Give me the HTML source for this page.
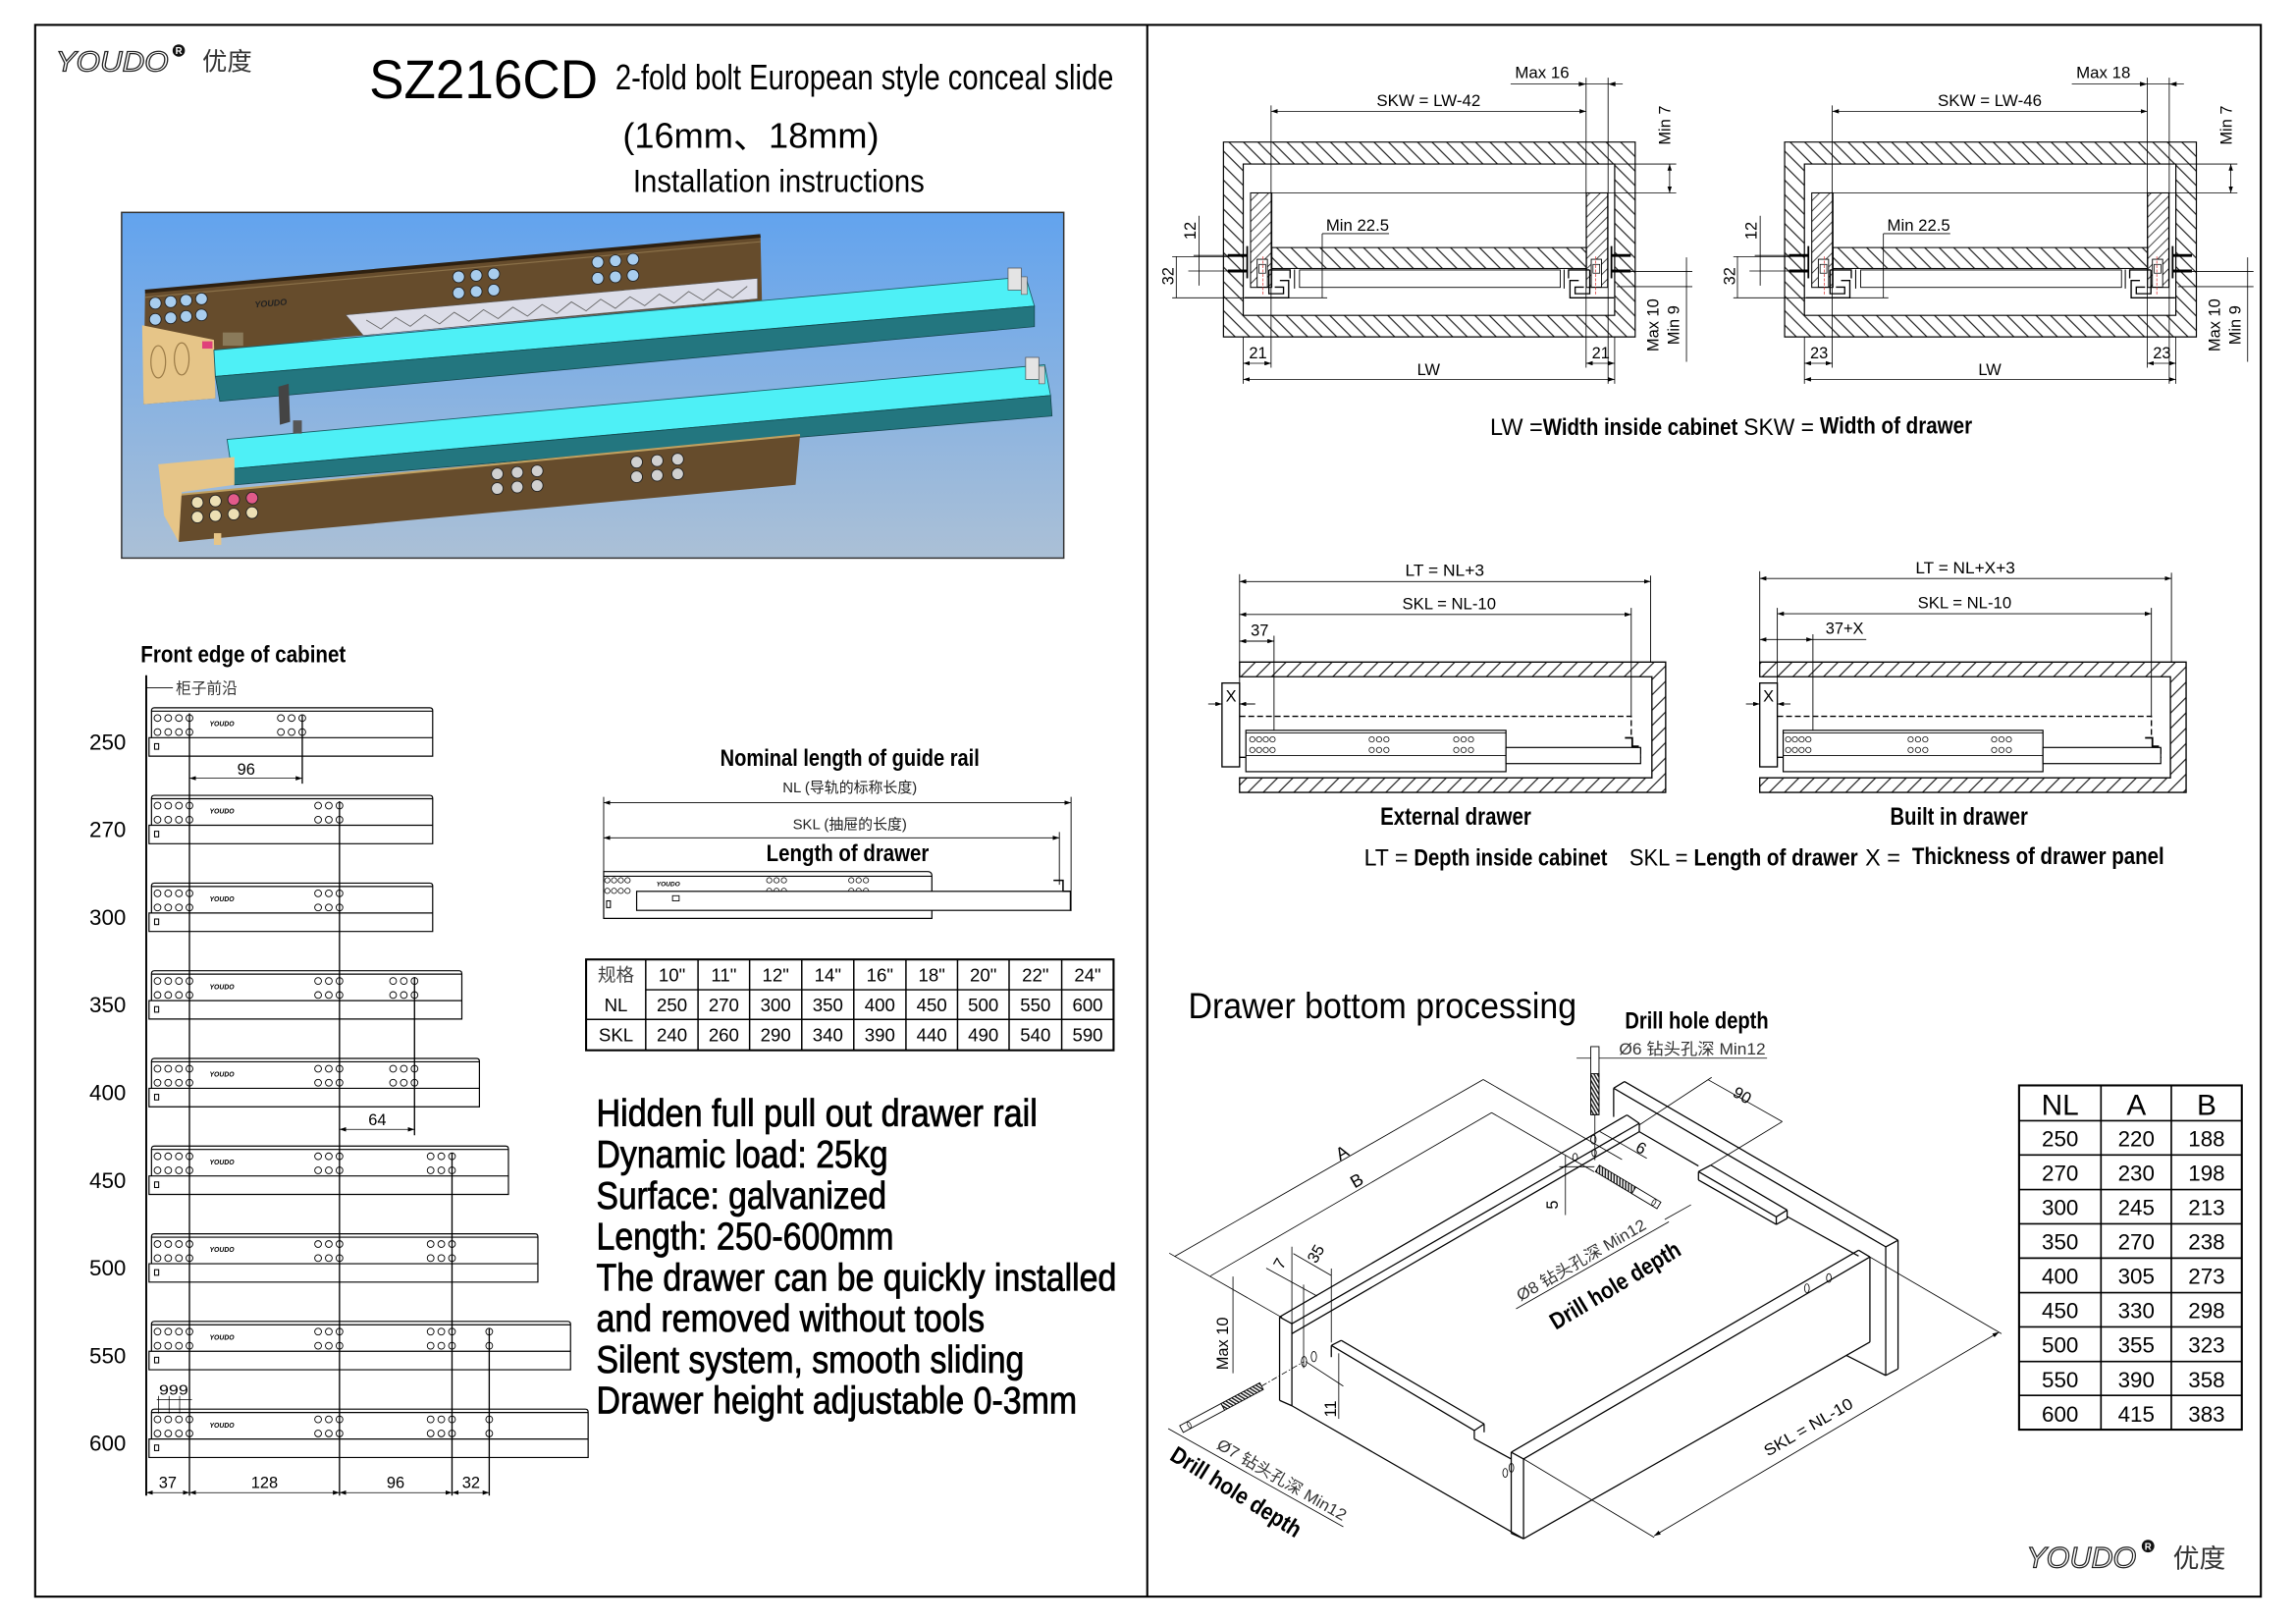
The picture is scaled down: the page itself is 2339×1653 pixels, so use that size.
<!DOCTYPE html>
<html><head><meta charset="utf-8"><style>
html,body{margin:0;padding:0;background:#fff;}
svg{display:block;}
text{font-family:"Liberation Sans","Noto Sans CJK SC",sans-serif;fill:#000;}
.t11{font-size:11px;}
.lg{font-size:4.6px;font-weight:bold;font-style:italic;}
.num{font-size:15px;}
</style></head><body>
<svg xmlns="http://www.w3.org/2000/svg" width="2339" height="1653" viewBox="0 0 1567 1108" preserveAspectRatio="none">
<defs>
 <pattern id="hb" width="7" height="7" patternUnits="userSpaceOnUse" patternTransform="rotate(45)"><line x1="0" y1="0.5" x2="7" y2="0.5" stroke="#000" stroke-width="0.7"/></pattern>
 <pattern id="hf" width="7.4" height="7.4" patternUnits="userSpaceOnUse" patternTransform="rotate(-45)"><line x1="0" y1="0.5" x2="7.4" y2="0.5" stroke="#000" stroke-width="0.7"/></pattern>
 <pattern id="hs" width="5" height="5" patternUnits="userSpaceOnUse" patternTransform="rotate(-45)"><line x1="0" y1="0.5" x2="5" y2="0.5" stroke="#000" stroke-width="0.5"/></pattern>
 <pattern id="thr" width="2" height="2" patternUnits="userSpaceOnUse" patternTransform="rotate(60)"><rect width="2" height="1" fill="#222"/></pattern>
 <marker id="ar" viewBox="0 0 6 4" refX="6" refY="2" markerWidth="4.5" markerHeight="3" markerUnits="userSpaceOnUse" orient="auto-start-reverse"><path d="M0,0 L6,2 L0,4 Z" fill="#000"/></marker>
 <linearGradient id="sky" x1="0" y1="0" x2="0" y2="1"><stop offset="0" stop-color="#62a3ee"/><stop offset="1" stop-color="#abc0d6"/></linearGradient>
 <g id="c4" fill="none" stroke="#000" stroke-width="0.6"><circle cx="0" cy="0" r="2.3"/><circle cx="7.3" cy="0" r="2.3"/><circle cx="14.6" cy="0" r="2.3"/><circle cx="21.8" cy="0" r="2.3"/><circle cx="0" cy="9.6" r="2.3"/><circle cx="7.3" cy="9.6" r="2.3"/><circle cx="14.6" cy="9.6" r="2.3"/><circle cx="21.8" cy="9.6" r="2.3"/></g>
 <g id="c3" fill="none" stroke="#000" stroke-width="0.6"><circle cx="0" cy="0" r="2.3"/><circle cx="7.3" cy="0" r="2.3"/><circle cx="14.6" cy="0" r="2.3"/><circle cx="0" cy="9.6" r="2.3"/><circle cx="7.3" cy="9.6" r="2.3"/><circle cx="14.6" cy="9.6" r="2.3"/></g>
 <g id="c1" fill="none" stroke="#000" stroke-width="0.6"><circle cx="0" cy="0" r="2.3"/><circle cx="0" cy="9.6" r="2.3"/></g>
 <g id="d4" fill="none" stroke="#000" stroke-width="0.5"><circle cx="0" cy="0" r="1.8"/><circle cx="4.6" cy="0" r="1.8"/><circle cx="9.2" cy="0" r="1.8"/><circle cx="13.8" cy="0" r="1.8"/><circle cx="0" cy="7.2" r="1.8"/><circle cx="4.6" cy="7.2" r="1.8"/><circle cx="9.2" cy="7.2" r="1.8"/><circle cx="13.8" cy="7.2" r="1.8"/></g>
 <g id="d3" fill="none" stroke="#000" stroke-width="0.5"><circle cx="0" cy="0" r="1.8"/><circle cx="5" cy="0" r="1.8"/><circle cx="10" cy="0" r="1.8"/><circle cx="0" cy="7.2" r="1.8"/><circle cx="5" cy="7.2" r="1.8"/><circle cx="10" cy="7.2" r="1.8"/></g>
 <g id="sl" fill="none" stroke="#000">
  <path d="M849.5,203.3 H879.5 V191.5 H873.5" stroke-width="0.9"/>
  <path d="M866,184.3 H880.5 V190" stroke-width="0.9"/>
  <path d="M870,196 H876 V200.5 H866 V184.3" stroke-width="0.9"/>
  <rect x="858" y="177" width="7" height="19" fill="#fff" stroke-width="0.6"/>
  <rect x="859.2" y="180.5" width="4.6" height="6" stroke-width="0.5"/>
  <line x1="862" y1="175" x2="862" y2="202" stroke="#d33" stroke-width="0.5" stroke-dasharray="2,1"/>
  <line x1="838" y1="174.4" x2="851" y2="174.4" stroke-width="2"/>
  <line x1="838" y1="185" x2="851" y2="185" stroke-width="2"/>
  <line x1="851.2" y1="168" x2="851.2" y2="190" stroke-width="1.2"/>
  <line x1="883.5" y1="184" x2="883.5" y2="197" stroke-width="0.7"/>
 </g>
 <g id="cab">
  <path d="M835,97 H1116 V230 H835 Z M848.5,112 V215.3 H1102 V112 Z" fill="url(#hb)" fill-rule="evenodd" stroke="#000" stroke-width="0.8"/>
  <rect x="853.5" y="131.7" width="14.5" height="64.5" fill="url(#hs)" stroke="#000" stroke-width="0.7"/>
  <rect x="1082.7" y="131.7" width="14.5" height="64.5" fill="url(#hs)" stroke="#000" stroke-width="0.7"/>
  <rect x="868" y="169" width="214.7" height="14.3" fill="url(#hb)" stroke="#000" stroke-width="0.7"/>
  <rect x="886.9" y="184.3" width="178" height="11.9" fill="none" stroke="#000" stroke-width="0.6"/>
  <use href="#sl"/>
  <use href="#sl" transform="translate(1951,0) scale(-1,1)"/>
  <g stroke="#000" stroke-width="0.55" fill="none">
   <line x1="853.5" y1="131.7" x2="1144" y2="131.7"/>
   <line x1="1102" y1="112" x2="1144" y2="112"/>
   <line x1="867.5" y1="76" x2="1082.5" y2="76" marker-start="url(#ar)" marker-end="url(#ar)"/>
   <line x1="867.5" y1="72" x2="867.5" y2="251"/>
   <line x1="1082.5" y1="53" x2="1082.5" y2="251"/>
   <line x1="1097.5" y1="53" x2="1097.5" y2="262"/>
   <line x1="1031" y1="57.4" x2="1107.5" y2="57.4"/>
   <line x1="1139.5" y1="112" x2="1139.5" y2="131.7" marker-start="url(#ar)" marker-end="url(#ar)"/>
   <line x1="818.3" y1="147.3" x2="818.3" y2="195"/>
   <line x1="814.6" y1="174.4" x2="840" y2="174.4"/>
   <line x1="811" y1="185" x2="840" y2="185"/>
   <line x1="802.8" y1="175" x2="802.8" y2="203.3"/>
   <line x1="800" y1="175.2" x2="839" y2="175.2"/>
   <line x1="800" y1="203.3" x2="905.8" y2="203.3"/>
   <line x1="902.4" y1="159.5" x2="948" y2="159.5"/>
   <line x1="902.4" y1="159.5" x2="902.4" y2="203.3"/>
   <line x1="1151" y1="175.7" x2="1151" y2="247"/>
   <line x1="1103.5" y1="185.3" x2="1155" y2="185.3"/>
   <line x1="1103.5" y1="195.7" x2="1155" y2="195.7"/>
   <line x1="848.5" y1="230" x2="848.5" y2="262"/>
   <line x1="1102" y1="230" x2="1102" y2="262"/>
   <line x1="848.5" y1="248" x2="867.5" y2="248" marker-start="url(#ar)" marker-end="url(#ar)"/>
   <line x1="1082.5" y1="248" x2="1102" y2="248" marker-start="url(#ar)" marker-end="url(#ar)"/>
   <line x1="848.5" y1="259" x2="1102" y2="259" marker-start="url(#ar)" marker-end="url(#ar)"/>
  </g>
  <path d="M1082.5,57.4 L1077.5,55.8 L1077.5,59 Z M1097.5,57.4 L1102.5,55.8 L1102.5,59 Z" fill="#000"/>
 </g>
</defs>

<!-- frame -->
<rect x="24" y="17" width="1519" height="1073" fill="none" stroke="#000" stroke-width="1.4"/>
<line x1="783" y1="17" x2="783" y2="1090" stroke="#000" stroke-width="1.4"/>

<!-- header -->
<text x="38" y="48.5" font-size="19" font-style="italic" style="fill:#fff" stroke="#222" stroke-width="0.8" textLength="77" lengthAdjust="spacingAndGlyphs">YOUDO</text>
<circle cx="122" cy="34.5" r="4.2" fill="#111"/><text x="122" y="37" font-size="6.5" font-weight="bold" style="fill:#fff" text-anchor="middle">R</text>
<text x="138" y="48" font-size="17" style="fill:#333">优度</text>
<text x="252" y="67" font-size="37" textLength="156" lengthAdjust="spacingAndGlyphs">SZ216CD</text>
<text x="420" y="61" font-size="24" textLength="340" lengthAdjust="spacingAndGlyphs">2-fold bolt European style conceal slide</text>
<text x="425" y="101" font-size="24" textLength="175" lengthAdjust="spacingAndGlyphs">(16mm、18mm)</text>
<text x="432" y="131" font-size="22" textLength="199" lengthAdjust="spacingAndGlyphs">Installation instructions</text>

<!-- photo -->
<rect x="83" y="145" width="643" height="236" fill="url(#sky)" stroke="#333" stroke-width="1"/>
<g>
 <polygon points="99,199 519,161 520,205 248,229 236,230 146,240 147,272 98,276" fill="#664c2c"/>
 <polyline points="99,199 519,161" stroke="#2e2010" stroke-width="2.5" fill="none"/>
 <polyline points="99,203 519,165" stroke="#8a7048" stroke-width="0.8" fill="none"/>
 <polygon points="236,215 517,190 517,204 248,229" fill="#dcdde8" stroke="#555" stroke-width="0.4"/>
 <polyline points="250,218.5 260,224.6 270,216.7 280,222.8 290,215 300,221.1 310,213.2 320,219.3 330,211.4 340,217.5 350,209.7 360,215.8 370,207.9 380,214 390,206.1 400,212.2 410,204.3 420,210.5 430,202.6 440,208.7 450,200.8 460,206.9 470,199 480,205.1 490,197.3 500,203.4 510,195.5" fill="none" stroke="#666" stroke-width="0.6"/>
 <polygon points="97,222 146,232 147,272 98,276" fill="#e6c588"/>
 <ellipse cx="108" cy="247" rx="5" ry="11" fill="none" stroke="#9a7a46" stroke-width="0.8"/>
 <ellipse cx="124" cy="245" rx="5" ry="11" fill="none" stroke="#9a7a46" stroke-width="0.8"/>
 <rect x="138" y="233" width="7" height="5" fill="#e0407a"/>
 <rect x="152" y="227" width="14" height="9" fill="#8a7a5a"/>
 <g fill="#a8cdee" stroke="#222" stroke-width="0.6">
  <circle cx="106" cy="207" r="4"/><circle cx="116.5" cy="206" r="4"/><circle cx="127" cy="205" r="4"/><circle cx="137.5" cy="204" r="4"/>
  <circle cx="106" cy="218" r="4"/><circle cx="116.5" cy="217" r="4"/><circle cx="127" cy="216" r="4"/><circle cx="137.5" cy="215" r="4"/>
  <circle cx="313" cy="189" r="4"/><circle cx="325" cy="188" r="4"/><circle cx="337" cy="187" r="4"/>
  <circle cx="313" cy="200" r="4"/><circle cx="325" cy="199" r="4"/><circle cx="337" cy="198" r="4"/>
  <circle cx="408" cy="179" r="4"/><circle cx="420" cy="178" r="4"/><circle cx="432" cy="177" r="4"/>
  <circle cx="408" cy="190" r="4"/><circle cx="420" cy="189" r="4"/><circle cx="432" cy="188" r="4"/>
 </g>
 <text x="174" y="210" font-size="6" font-style="italic" font-weight="bold" style="fill:#222" transform="rotate(-5 174 210)">YOUDO</text>
 <polygon points="146,239 700,189 706,209 147,257" fill="#4ef0f6" stroke="#1b5e66" stroke-width="0.6"/>
 <polygon points="147,257 706,209 706,223 150,274" fill="#23767f" stroke="#12444a" stroke-width="0.5"/>
 <rect x="688" y="183" width="9" height="15" fill="#e4e4e4" stroke="#555" stroke-width="0.5"/>
 <rect x="697" y="189" width="4" height="12" fill="#cfcfcf" stroke="#555" stroke-width="0.4"/>
 <polygon points="190,264 197,262 198,288 191,290" fill="#444"/>
 <polygon points="155,300 713,249 717,270 158,320" fill="#4ef0f6" stroke="#1b5e66" stroke-width="0.6"/>
 <polygon points="158,320 717,270 718,284 160,331" fill="#23767f" stroke="#12444a" stroke-width="0.5"/>
 <rect x="700" y="244" width="9" height="15" fill="#e4e4e4" stroke="#555" stroke-width="0.5"/>
 <rect x="709" y="250" width="4" height="12" fill="#cfcfcf" stroke="#555" stroke-width="0.4"/>
 <rect x="200" y="287" width="6" height="9" fill="#555"/>
 <polygon points="120,338 546,297 543,331 183,364 122,370" fill="#664c2c"/>
 <line x1="120" y1="338" x2="546" y2="297" stroke="#c0a060" stroke-width="1.4"/>
 <polygon points="108,317 160,312 160,331 124,336 122,370 112,352" fill="#e6c588"/>
 <rect x="146" y="364" width="5" height="8" fill="#e6c588"/>
 <g fill="#ecdfb4" stroke="#222" stroke-width="0.6">
  <circle cx="134.7" cy="343" r="4"/><circle cx="147" cy="342" r="4"/><circle cx="159.5" cy="341" r="4" fill="#e25a8a"/><circle cx="172" cy="340" r="4" fill="#e25a8a"/>
  <circle cx="134.7" cy="353" r="4"/><circle cx="147" cy="352" r="4"/><circle cx="159.5" cy="351" r="4"/><circle cx="172" cy="350" r="4"/>
 </g>
 <g fill="#d0d0d0" stroke="#222" stroke-width="0.6">
  <circle cx="339.4" cy="323.5" r="4"/><circle cx="353" cy="322.5" r="4"/><circle cx="366.6" cy="321.5" r="4"/>
  <circle cx="339.4" cy="333.5" r="4"/><circle cx="353" cy="332.5" r="4"/><circle cx="366.6" cy="331.5" r="4"/>
  <circle cx="434.5" cy="315.5" r="4"/><circle cx="448.5" cy="314.5" r="4"/><circle cx="462.5" cy="313.5" r="4"/>
  <circle cx="434.5" cy="325.5" r="4"/><circle cx="448.5" cy="324.5" r="4"/><circle cx="462.5" cy="323.5" r="4"/>
 </g>
</g>

<!-- Front edge of cabinet section -->
<text x="96" y="452" font-size="16" font-weight="bold" textLength="140" lengthAdjust="spacingAndGlyphs">Front edge of cabinet</text>
<line x1="100" y1="469.5" x2="118" y2="469.5" stroke="#000" stroke-width="0.6"/>
<text x="120" y="473.5" font-size="10.5" style="fill:#333">柜子前沿</text>
<line x1="99.8" y1="461" x2="99.8" y2="1021" stroke="#000" stroke-width="1.3"/>

<g transform="translate(0,483.2)"><path d="M101.7,33 V20.4 H103.4 V2 Q103.4,0 105.4,0 H293.3 Q295.3,0 295.3,2 V33 Z M101.7,20.4 H295.3 M103.4,2.3 H295.3" fill="none" stroke="#000" stroke-width="0.8"/><use href="#c4" x="107.5" y="7"/><use href="#c3" x="191.7" y="7"/><text x="143" y="12.5" class="lg">YOUDO</text><rect x="105.5" y="24.5" width="2.8" height="3.8" fill="#fff" stroke="#000" stroke-width="0.7"/></g>
<g transform="translate(0,543)"><path d="M101.7,33 V20.4 H103.4 V2 Q103.4,0 105.4,0 H293.3 Q295.3,0 295.3,2 V33 Z M101.7,20.4 H295.3 M103.4,2.3 H295.3" fill="none" stroke="#000" stroke-width="0.8"/><use href="#c4" x="107.5" y="7"/><use href="#c3" x="217.1" y="7"/><text x="143" y="12.5" class="lg">YOUDO</text><rect x="105.5" y="24.5" width="2.8" height="3.8" fill="#fff" stroke="#000" stroke-width="0.7"/></g>
<g transform="translate(0,602.9)"><path d="M101.7,33 V20.4 H103.4 V2 Q103.4,0 105.4,0 H293.3 Q295.3,0 295.3,2 V33 Z M101.7,20.4 H295.3 M103.4,2.3 H295.3" fill="none" stroke="#000" stroke-width="0.8"/><use href="#c4" x="107.5" y="7"/><use href="#c3" x="217.1" y="7"/><text x="143" y="12.5" class="lg">YOUDO</text><rect x="105.5" y="24.5" width="2.8" height="3.8" fill="#fff" stroke="#000" stroke-width="0.7"/></g>
<g transform="translate(0,662.7)"><path d="M101.7,33 V20.4 H103.4 V2 Q103.4,0 105.4,0 H313.2 Q315.2,0 315.2,2 V33 Z M101.7,20.4 H315.2 M103.4,2.3 H315.2" fill="none" stroke="#000" stroke-width="0.8"/><use href="#c4" x="107.5" y="7"/><use href="#c3" x="217.1" y="7"/><use href="#c3" x="268.3" y="7"/><text x="143" y="12.5" class="lg">YOUDO</text><rect x="105.5" y="24.5" width="2.8" height="3.8" fill="#fff" stroke="#000" stroke-width="0.7"/></g>
<g transform="translate(0,722.6)"><path d="M101.7,33 V20.4 H103.4 V2 Q103.4,0 105.4,0 H325.2 Q327.2,0 327.2,2 V33 Z M101.7,20.4 H327.2 M103.4,2.3 H327.2" fill="none" stroke="#000" stroke-width="0.8"/><use href="#c4" x="107.5" y="7"/><use href="#c3" x="217.1" y="7"/><use href="#c3" x="268.3" y="7"/><text x="143" y="12.5" class="lg">YOUDO</text><rect x="105.5" y="24.5" width="2.8" height="3.8" fill="#fff" stroke="#000" stroke-width="0.7"/></g>
<g transform="translate(0,782.4)"><path d="M101.7,33 V20.4 H103.4 V2 Q103.4,0 105.4,0 H345 Q347,0 347,2 V33 Z M101.7,20.4 H347 M103.4,2.3 H347" fill="none" stroke="#000" stroke-width="0.8"/><use href="#c4" x="107.5" y="7"/><use href="#c3" x="217.1" y="7"/><use href="#c3" x="293.9" y="7"/><text x="143" y="12.5" class="lg">YOUDO</text><rect x="105.5" y="24.5" width="2.8" height="3.8" fill="#fff" stroke="#000" stroke-width="0.7"/></g>
<g transform="translate(0,842.3)"><path d="M101.7,33 V20.4 H103.4 V2 Q103.4,0 105.4,0 H365.1 Q367.1,0 367.1,2 V33 Z M101.7,20.4 H367.1 M103.4,2.3 H367.1" fill="none" stroke="#000" stroke-width="0.8"/><use href="#c4" x="107.5" y="7"/><use href="#c3" x="217.1" y="7"/><use href="#c3" x="293.9" y="7"/><text x="143" y="12.5" class="lg">YOUDO</text><rect x="105.5" y="24.5" width="2.8" height="3.8" fill="#fff" stroke="#000" stroke-width="0.7"/></g>
<g transform="translate(0,902.1)"><path d="M101.7,33 V20.4 H103.4 V2 Q103.4,0 105.4,0 H387.4 Q389.4,0 389.4,2 V33 Z M101.7,20.4 H389.4 M103.4,2.3 H389.4" fill="none" stroke="#000" stroke-width="0.8"/><use href="#c4" x="107.5" y="7"/><use href="#c3" x="217.1" y="7"/><use href="#c3" x="293.9" y="7"/><use href="#c1" x="333.9" y="7"/><text x="143" y="12.5" class="lg">YOUDO</text><rect x="105.5" y="24.5" width="2.8" height="3.8" fill="#fff" stroke="#000" stroke-width="0.7"/></g>
<g transform="translate(0,962)"><path d="M101.7,33 V20.4 H103.4 V2 Q103.4,0 105.4,0 H399.4 Q401.4,0 401.4,2 V33 Z M101.7,20.4 H401.4 M103.4,2.3 H401.4" fill="none" stroke="#000" stroke-width="0.8"/><use href="#c4" x="107.5" y="7"/><use href="#c3" x="217.1" y="7"/><use href="#c3" x="293.9" y="7"/><use href="#c1" x="333.9" y="7"/><text x="143" y="12.5" class="lg">YOUDO</text><rect x="105.5" y="24.5" width="2.8" height="3.8" fill="#fff" stroke="#000" stroke-width="0.7"/></g>

<g class="num">
<text x="61" y="511.7" class="num">250</text>
<text x="61" y="571.5" class="num">270</text>
<text x="61" y="631.4" class="num">300</text>
<text x="61" y="691.2" class="num">350</text>
<text x="61" y="751.1" class="num">400</text>
<text x="61" y="810.9" class="num">450</text>
<text x="61" y="870.8" class="num">500</text>
<text x="61" y="930.6" class="num">550</text>
<text x="61" y="990.5" class="num">600</text>
</g>
<g stroke="#000" stroke-width="0.9" fill="none">
 <line x1="129.3" y1="487" x2="129.3" y2="1021"/>
 <line x1="206.3" y1="488" x2="206.3" y2="535"/>
 <line x1="231.7" y1="547" x2="231.7" y2="1021"/>
 <line x1="282.9" y1="667" x2="282.9" y2="775"/>
 <line x1="308.5" y1="787" x2="308.5" y2="1021"/>
 <line x1="333.9" y1="907" x2="333.9" y2="1021"/>
</g>
<g stroke="#000" stroke-width="0.5" fill="none">
 <line x1="129.3" y1="531.3" x2="206.3" y2="531.3" marker-start="url(#ar)" marker-end="url(#ar)"/>
 <line x1="231.7" y1="771" x2="282.9" y2="771" marker-start="url(#ar)" marker-end="url(#ar)"/>
 <line x1="99.8" y1="1019" x2="129.3" y2="1019" marker-start="url(#ar)" marker-end="url(#ar)"/>
 <line x1="129.3" y1="1019" x2="231.7" y2="1019" marker-start="url(#ar)" marker-end="url(#ar)"/>
 <line x1="231.7" y1="1019" x2="308.5" y2="1019" marker-start="url(#ar)" marker-end="url(#ar)"/>
 <line x1="308.5" y1="1019" x2="333.9" y2="1019" marker-start="url(#ar)" marker-end="url(#ar)"/>
 <line x1="107" y1="955.5" x2="131" y2="955.5"/>
 <line x1="108.2" y1="953" x2="108.2" y2="965"/>
 <line x1="115.4" y1="953" x2="115.4" y2="965"/>
 <line x1="122.6" y1="953" x2="122.6" y2="965"/>
</g>
<text x="168" y="529" font-size="11" text-anchor="middle">96</text>
<text x="257.5" y="768" font-size="11" text-anchor="middle">64</text>
<text x="114.5" y="1016" font-size="11" text-anchor="middle">37</text>
<text x="180.5" y="1016" font-size="11" text-anchor="middle">128</text>
<text x="270" y="1016" font-size="11" text-anchor="middle">96</text>
<text x="321.5" y="1016" font-size="11" text-anchor="middle">32</text>
<text x="108.5" y="952" font-size="10" textLength="20" lengthAdjust="spacingAndGlyphs">999</text>

<!-- Nominal length -->
<text x="580" y="523" font-size="16" font-weight="bold" text-anchor="middle" textLength="177" lengthAdjust="spacingAndGlyphs">Nominal length of guide rail</text>
<text x="580" y="541" font-size="10" text-anchor="middle" style="fill:#222">NL (导轨的标称长度)</text>
<text x="580" y="566" font-size="10" text-anchor="middle" style="fill:#222">SKL (抽屉的长度)</text>
<text x="578.5" y="588" font-size="16" font-weight="bold" text-anchor="middle" textLength="111" lengthAdjust="spacingAndGlyphs">Length of drawer</text>
<g stroke="#000" stroke-width="0.6" fill="none">
 <line x1="412" y1="548" x2="731" y2="548" marker-start="url(#ar)" marker-end="url(#ar)"/>
 <line x1="412" y1="572" x2="723" y2="572" marker-start="url(#ar)" marker-end="url(#ar)"/>
 <line x1="412" y1="544" x2="412" y2="595"/>
 <line x1="731" y1="544" x2="731" y2="622"/>
 <line x1="723" y1="568" x2="723" y2="604"/>
</g>
<path d="M412,627 V595 H633 Q636,595 636,598 V627 Z M412,598.2 H636" fill="#fff" stroke="#000" stroke-width="0.8"/>
<use href="#d4" x="414.5" y="601"/>
<use href="#d3" x="525" y="601"/>
<use href="#d3" x="581" y="601"/>
<text x="448" y="605" font-size="4.4" font-weight="bold" font-style="italic">YOUDO</text>
<rect x="414" y="615" width="2.6" height="4.6" fill="#fff" stroke="#000" stroke-width="0.7"/>
<rect x="434.5" y="608.5" width="296" height="13" fill="#fff" stroke="#000" stroke-width="0.8"/>
<rect x="459" y="611.5" width="4.5" height="3.5" fill="none" stroke="#000" stroke-width="0.6"/>
<path d="M719,601 H725.5 V608.5 H731" fill="none" stroke="#000" stroke-width="1"/>

<!-- spec table -->
<g stroke="#000" fill="none">
 <rect x="400" y="655" width="360" height="62" stroke-width="1.4"/>
 <line x1="440.7" y1="675.7" x2="760" y2="675.7" stroke-width="1"/>
 <line x1="400" y1="695.9" x2="760" y2="695.9" stroke-width="1"/>
 <line x1="440.7" y1="655" x2="440.7" y2="717" stroke-width="1"/>
 <line x1="476.4" y1="655" x2="476.4" y2="717" stroke-width="1"/>
 <line x1="511.6" y1="655" x2="511.6" y2="717" stroke-width="1"/>
 <line x1="547.2" y1="655" x2="547.2" y2="717" stroke-width="1"/>
 <line x1="582.7" y1="655" x2="582.7" y2="717" stroke-width="1"/>
 <line x1="618.3" y1="655" x2="618.3" y2="717" stroke-width="1"/>
 <line x1="653.5" y1="655" x2="653.5" y2="717" stroke-width="1"/>
 <line x1="688.7" y1="655" x2="688.7" y2="717" stroke-width="1"/>
 <line x1="724.6" y1="655" x2="724.6" y2="717" stroke-width="1"/>
</g>
<g font-size="12.5" text-anchor="middle">
 <text x="420.4" y="670" style="fill:#444">规格</text>
 <text x="458.6" y="670">10"</text><text x="494" y="670">11"</text><text x="529.4" y="670">12"</text><text x="565" y="670">14"</text><text x="600.5" y="670">16"</text><text x="635.9" y="670">18"</text><text x="671.1" y="670">20"</text><text x="706.7" y="670">22"</text><text x="742.3" y="670">24"</text>
 <text x="420.4" y="690.5">NL</text>
 <text x="458.6" y="690.5">250</text><text x="494" y="690.5">270</text><text x="529.4" y="690.5">300</text><text x="565" y="690.5">350</text><text x="600.5" y="690.5">400</text><text x="635.9" y="690.5">450</text><text x="671.1" y="690.5">500</text><text x="706.7" y="690.5">550</text><text x="742.3" y="690.5">600</text>
 <text x="420.4" y="711">SKL</text>
 <text x="458.6" y="711">240</text><text x="494" y="711">260</text><text x="529.4" y="711">290</text><text x="565" y="711">340</text><text x="600.5" y="711">390</text><text x="635.9" y="711">440</text><text x="671.1" y="711">490</text><text x="706.7" y="711">540</text><text x="742.3" y="711">590</text>
</g>

<!-- feature text -->
<g font-size="26" stroke="#000" stroke-width="0.55">
 <text x="407" y="769" textLength="301" lengthAdjust="spacingAndGlyphs">Hidden full pull out drawer rail</text>
 <text x="407" y="797" textLength="199" lengthAdjust="spacingAndGlyphs">Dynamic load: 25kg</text>
 <text x="407" y="825" textLength="198" lengthAdjust="spacingAndGlyphs">Surface: galvanized</text>
 <text x="407" y="853" textLength="203" lengthAdjust="spacingAndGlyphs">Length: 250-600mm</text>
 <text x="407" y="881" textLength="355" lengthAdjust="spacingAndGlyphs">The drawer can be quickly installed</text>
 <text x="407" y="909" textLength="265" lengthAdjust="spacingAndGlyphs">and removed without tools</text>
 <text x="407" y="937" textLength="292" lengthAdjust="spacingAndGlyphs">Silent system, smooth sliding</text>
 <text x="407" y="965" textLength="328" lengthAdjust="spacingAndGlyphs">Drawer height adjustable 0-3mm</text>
</g>

<!-- Right top cabinets -->
<use href="#cab"/>
<use href="#cab" x="383"/>
<g class="t11">
 <text x="975" y="72.3" text-anchor="middle" font-size="11" textLength="71" lengthAdjust="spacingAndGlyphs">SKW = LW-42</text>
 <text x="1034" y="53.4" font-size="11" textLength="37" lengthAdjust="spacingAndGlyphs">Max 16</text>
 <text x="905" y="157.5" font-size="11" textLength="43" lengthAdjust="spacingAndGlyphs">Min 22.5</text>
 <text x="858.5" y="244.6" font-size="11" text-anchor="middle">21</text>
 <text x="1092.5" y="244.6" font-size="11" text-anchor="middle">21</text>
 <text x="975" y="256" font-size="11" text-anchor="middle">LW</text>
 <text transform="translate(1140,85.5) rotate(-90)" font-size="11" text-anchor="middle">Min 7</text>
 <text transform="translate(816,157.5) rotate(-90)" font-size="11" text-anchor="middle">12</text>
 <text transform="translate(801,188.5) rotate(-90)" font-size="11" text-anchor="middle">32</text>
 <text transform="translate(1132,222) rotate(-90)" font-size="11" text-anchor="middle">Max 10</text>
 <text transform="translate(1146,222) rotate(-90)" font-size="11" text-anchor="middle">Min 9</text>

 <text x="1358" y="72.3" text-anchor="middle" font-size="11" textLength="71" lengthAdjust="spacingAndGlyphs">SKW = LW-46</text>
 <text x="1417" y="53.4" font-size="11" textLength="37" lengthAdjust="spacingAndGlyphs">Max 18</text>
 <text x="1288" y="157.5" font-size="11" textLength="43" lengthAdjust="spacingAndGlyphs">Min 22.5</text>
 <text x="1241.5" y="244.6" font-size="11" text-anchor="middle">23</text>
 <text x="1475.5" y="244.6" font-size="11" text-anchor="middle">23</text>
 <text x="1358" y="256" font-size="11" text-anchor="middle">LW</text>
 <text transform="translate(1523,85.5) rotate(-90)" font-size="11" text-anchor="middle">Min 7</text>
 <text transform="translate(1199,157.5) rotate(-90)" font-size="11" text-anchor="middle">12</text>
 <text transform="translate(1184,188.5) rotate(-90)" font-size="11" text-anchor="middle">32</text>
 <text transform="translate(1515,222) rotate(-90)" font-size="11" text-anchor="middle">Max 10</text>
 <text transform="translate(1529,222) rotate(-90)" font-size="11" text-anchor="middle">Min 9</text>
</g>
<text x="1017" y="297" font-size="16" textLength="36" lengthAdjust="spacingAndGlyphs">LW =</text>
<text x="1053" y="297" font-size="16" font-weight="bold" textLength="133" lengthAdjust="spacingAndGlyphs">Width inside cabinet</text>
<text x="1190" y="297" font-size="16" textLength="48" lengthAdjust="spacingAndGlyphs">SKW =</text>
<text x="1242" y="296" font-size="16" font-weight="bold" textLength="104" lengthAdjust="spacingAndGlyphs">Width of drawer</text>

<!-- External drawer -->
<path d="M846,452 H1136.8 V541 H846 V531 H1127.4 V462 H846 Z" fill="url(#hf)" stroke="#000" stroke-width="0.9"/>
<rect x="834" y="466.3" width="12" height="57.2" fill="#fff" stroke="#000" stroke-width="0.9"/>
<text x="840.2" y="479" font-size="11" text-anchor="middle">X</text>
<g stroke="#000" stroke-width="0.6" fill="none">
 <line x1="824.6" y1="480.6" x2="834" y2="480.6" marker-end="url(#ar)"/>
 <line x1="856.7" y1="480.6" x2="846" y2="480.6" marker-end="url(#ar)"/>
 <path d="M846,489 H1113.3 V504 M846,517 H1119.7 V509" stroke-dasharray="4,2" stroke-width="0.9"/>
 <line x1="846" y1="397" x2="1126.5" y2="397" marker-start="url(#ar)" marker-end="url(#ar)"/>
 <line x1="846" y1="419.5" x2="1113.3" y2="419.5" marker-start="url(#ar)" marker-end="url(#ar)"/>
 <line x1="846" y1="437.7" x2="869.5" y2="437.7" marker-start="url(#ar)" marker-end="url(#ar)"/>
 <line x1="846" y1="392" x2="846" y2="466"/>
 <line x1="1126.5" y1="393" x2="1126.5" y2="452"/>
 <line x1="1113.3" y1="415" x2="1113.3" y2="489"/>
 <line x1="869.5" y1="434" x2="869.5" y2="504.8"/>
</g>
<rect x="850.3" y="498.6" width="177.5" height="28.2" fill="#fff" stroke="#000" stroke-width="0.8"/>
<line x1="850.3" y1="500.3" x2="1027.8" y2="500.3" stroke="#000" stroke-width="0.6"/>
<line x1="850.3" y1="515.8" x2="1027.8" y2="515.8" stroke="#000" stroke-width="0.6"/>
<use href="#d4" x="854.7" y="504.8"/>
<use href="#d3" x="936.2" y="504.8"/>
<use href="#d3" x="993.9" y="504.8"/>
<rect x="1027.8" y="510.3" width="91.9" height="11" fill="#fff" stroke="#000" stroke-width="0.8"/>
<path d="M1109,503.7 H1114 V509.5 H1118.5" fill="none" stroke="#000" stroke-width="1.2"/>
<text x="986" y="393" font-size="11" text-anchor="middle" textLength="54" lengthAdjust="spacingAndGlyphs">LT = NL+3</text>
<text x="989" y="415.8" font-size="11" text-anchor="middle" textLength="64" lengthAdjust="spacingAndGlyphs">SKL = NL-10</text>
<text x="859.7" y="434" font-size="11" text-anchor="middle">37</text>
<text x="993.5" y="563" font-size="17" font-weight="bold" text-anchor="middle" textLength="103" lengthAdjust="spacingAndGlyphs">External drawer</text>

<!-- Built in drawer -->
<path d="M1201,452 H1492 V541 H1201 V531 H1481.3 V462 H1201 Z" fill="url(#hf)" stroke="#000" stroke-width="0.9"/>
<rect x="1201" y="466.3" width="12" height="57.2" fill="#fff" stroke="#000" stroke-width="0.9"/>
<text x="1207" y="479" font-size="11" text-anchor="middle">X</text>
<g stroke="#000" stroke-width="0.6" fill="none">
 <line x1="1191.6" y1="480.6" x2="1201" y2="480.6" marker-end="url(#ar)"/>
 <line x1="1222" y1="480.6" x2="1213" y2="480.6" marker-end="url(#ar)"/>
 <path d="M1213,489 H1468.3 V504 M1213,517 H1474.7 V509" stroke-dasharray="4,2" stroke-width="0.9"/>
 <line x1="1201" y1="394.9" x2="1482" y2="394.9" marker-start="url(#ar)" marker-end="url(#ar)"/>
 <line x1="1213" y1="419" x2="1468.3" y2="419" marker-start="url(#ar)" marker-end="url(#ar)"/>
 <line x1="1201" y1="436.6" x2="1237.3" y2="436.6" marker-start="url(#ar)" marker-end="url(#ar)"/>
 <line x1="1237.3" y1="436.6" x2="1273.7" y2="436.6"/>
 <line x1="1201" y1="390" x2="1201" y2="452"/>
 <line x1="1482" y1="391" x2="1482" y2="452"/>
 <line x1="1213" y1="415" x2="1213" y2="466"/>
 <line x1="1468.3" y1="415" x2="1468.3" y2="489"/>
 <line x1="1237.3" y1="433" x2="1237.3" y2="504.8"/>
</g>
<rect x="1217" y="498.6" width="177.3" height="28.2" fill="#fff" stroke="#000" stroke-width="0.8"/>
<line x1="1217" y1="500.3" x2="1394.3" y2="500.3" stroke="#000" stroke-width="0.6"/>
<line x1="1217" y1="515.8" x2="1394.3" y2="515.8" stroke="#000" stroke-width="0.6"/>
<use href="#d4" x="1220.4" y="504.8"/>
<use href="#d3" x="1304" y="504.8"/>
<use href="#d3" x="1361" y="504.8"/>
<rect x="1394.3" y="510.3" width="80.4" height="11" fill="#fff" stroke="#000" stroke-width="0.8"/>
<path d="M1464,503.7 H1469 V509.5 H1473.5" fill="none" stroke="#000" stroke-width="1.2"/>
<text x="1341.3" y="391.6" font-size="11" text-anchor="middle" textLength="68" lengthAdjust="spacingAndGlyphs">LT = NL+X+3</text>
<text x="1340.8" y="415.4" font-size="11" text-anchor="middle" textLength="64" lengthAdjust="spacingAndGlyphs">SKL = NL-10</text>
<text x="1245.9" y="432.7" font-size="11" textLength="26" lengthAdjust="spacingAndGlyphs">37+X</text>
<text x="1337" y="563" font-size="17" font-weight="bold" text-anchor="middle" textLength="94" lengthAdjust="spacingAndGlyphs">Built in drawer</text>

<text x="931" y="591" font-size="16" textLength="30" lengthAdjust="spacingAndGlyphs">LT =</text>
<text x="965" y="591" font-size="16" font-weight="bold" textLength="132" lengthAdjust="spacingAndGlyphs">Depth inside cabinet</text>
<text x="1112" y="591" font-size="16" textLength="40" lengthAdjust="spacingAndGlyphs">SKL =</text>
<text x="1156" y="591" font-size="16" font-weight="bold" textLength="112" lengthAdjust="spacingAndGlyphs">Length of drawer</text>
<text x="1273" y="591" font-size="16" textLength="24" lengthAdjust="spacingAndGlyphs">X =</text>
<text x="1305" y="590" font-size="16" font-weight="bold" textLength="172" lengthAdjust="spacingAndGlyphs">Thickness of drawer panel</text>

<!-- Drawer bottom processing -->
<text x="811" y="695" font-size="25" textLength="265" lengthAdjust="spacingAndGlyphs">Drawer bottom processing</text>
<text x="1109" y="702" font-size="16" font-weight="bold" textLength="98" lengthAdjust="spacingAndGlyphs">Drill hole depth</text>
<text x="1105" y="720" font-size="11" textLength="100" lengthAdjust="spacingAndGlyphs" style="fill:#333">Ø6 钻头孔深  Min12</text>
<line x1="1076" y1="722.4" x2="1206" y2="722.4" stroke="#000" stroke-width="0.55"/>
<rect x="1085.7" y="714.5" width="5.6" height="46.5" fill="#fff" stroke="#000" stroke-width="0.6"/>
<rect x="1085.7" y="733" width="5.6" height="28" fill="url(#thr)" stroke="#000" stroke-width="0.6"/>
<g stroke="#000" stroke-width="0.55" fill="none">
 <line x1="801.6" y1="857.8" x2="1012.3" y2="737"/>
 <line x1="1012.3" y1="737" x2="1107" y2="791.6"/>
 <line x1="798" y1="855.5" x2="875" y2="899.5"/>
 <line x1="826.1" y1="871.1" x2="1018" y2="759.6"/>
 <line x1="1018" y1="759.6" x2="1088" y2="800"/>
 <line x1="1088.5" y1="761" x2="1088.5" y2="792"/>
 <line x1="797.3" y1="975.3" x2="916.8" y2="1042.3"/>
</g>
<g transform="translate(3.2,0.5)">
<g stroke="#000" stroke-width="0.85" fill="none" stroke-linejoin="round">
 <line x1="870.1" y1="898.6" x2="1107.2" y2="760.7"/>
 <line x1="878.5" y1="903.2" x2="1115.6" y2="766.4"/>
 <line x1="878.5" y1="910" x2="1115.6" y2="772.1"/>
 <line x1="870.1" y1="898.6" x2="878.5" y2="903.2"/>
 <line x1="1107.2" y1="760.7" x2="1115.6" y2="766.4"/>
 <line x1="1115.6" y1="766.4" x2="1115.6" y2="772.1"/>
 <line x1="870.1" y1="898.6" x2="870.1" y2="955.5"/>
 <line x1="878.5" y1="903.2" x2="878.5" y2="959.2"/>
 <line x1="870.1" y1="955.5" x2="878.5" y2="959.2"/>
 <line x1="878.5" y1="959.2" x2="1036.6" y2="1050"/>
 <line x1="1028.2" y1="990.9" x2="1265.3" y2="853"/>
 <line x1="1036.6" y1="995.5" x2="1273" y2="857.6"/>
 <line x1="1028.2" y1="990.9" x2="1036.6" y2="995.5"/>
 <line x1="1265.3" y1="853" x2="1273" y2="857.6"/>
 <line x1="1028.2" y1="990.9" x2="1028.2" y2="1046.3"/>
 <line x1="1036.6" y1="995.5" x2="1036.6" y2="1050"/>
 <line x1="1028.2" y1="1046.3" x2="1036.6" y2="1050"/>
 <line x1="1036.6" y1="1050" x2="1273" y2="915.7"/>
 <line x1="1273" y1="857.6" x2="1273" y2="915.7"/>
 <line x1="1105.5" y1="737.9" x2="1292.2" y2="846.2"/>
 <line x1="1098.1" y1="742.4" x2="1283.8" y2="850.7"/>
 <line x1="1098.1" y1="742.4" x2="1105.5" y2="737.9"/>
 <line x1="1283.8" y1="850.7" x2="1283.8" y2="938.5"/>
 <line x1="1292.2" y1="846.2" x2="1292.2" y2="934"/>
 <line x1="1283.8" y1="850.7" x2="1292.2" y2="846.2"/>
 <line x1="1283.8" y1="938.5" x2="1292.2" y2="934"/>
 <line x1="1256.9" y1="924.8" x2="1283.8" y2="938.5"/>
 <line x1="1098.1" y1="742.4" x2="1098.1" y2="762"/>
 <line x1="1115.6" y1="772.1" x2="1156" y2="795.5"/>
 <line x1="1216.5" y1="830" x2="1265.3" y2="857"/>
 <line x1="1156" y1="799.4" x2="1164.4" y2="794.9"/>
 <line x1="1164.4" y1="794.9" x2="1216.5" y2="825.6"/>
 <line x1="1156" y1="799.4" x2="1209.1" y2="830.2"/>
 <line x1="1209.1" y1="830.2" x2="1216.5" y2="825.6"/>
 <line x1="1156" y1="799.4" x2="1156" y2="805.1"/>
 <line x1="1156" y1="805.1" x2="1209.1" y2="835.4"/>
 <line x1="1209.1" y1="830.2" x2="1209.1" y2="835.4"/>
 <line x1="1216.5" y1="825.6" x2="1216.5" y2="831.3"/>
 <line x1="1209.1" y1="835.4" x2="1216.5" y2="831.3"/>
 <line x1="905.4" y1="918" x2="912.2" y2="914.6"/>
 <line x1="912.2" y1="914.6" x2="1009.7" y2="971.6"/>
 <line x1="905.4" y1="918" x2="1003" y2="976.1"/>
 <line x1="1003" y1="976.1" x2="1009.7" y2="971.6"/>
 <line x1="1003" y1="976.1" x2="1003" y2="981.8"/>
 <line x1="1009.7" y1="971.6" x2="1009.7" y2="977.3"/>
 <line x1="1003" y1="981.8" x2="1028.2" y2="995.5"/>
 <line x1="905.4" y1="918" x2="905.4" y2="926"/>
</g>
<g stroke="#000" stroke-width="0.55" fill="none">
 <line x1="1162.7" y1="736.7" x2="1213.2" y2="765.2"/>
 <line x1="1213.2" y1="765.2" x2="1164.4" y2="794.9"/>
 <line x1="1115.6" y1="767.5" x2="1165" y2="735"/>
 <line x1="1088.7" y1="772" x2="1120.7" y2="790.3"/>
 <line x1="1065.2" y1="788" x2="1065.2" y2="829"/>
 <line x1="1061" y1="796" x2="1085" y2="796"/>
 <line x1="1031.5" y1="893" x2="1135.8" y2="833.6"/>
 <line x1="1133" y1="832" x2="1150.9" y2="822"/>
 <line x1="838.3" y1="871" x2="838.3" y2="937"/>
 <line x1="878.5" y1="850.6" x2="878.5" y2="903"/>
 <line x1="905.4" y1="865.5" x2="905.4" y2="916"/>
 <line x1="886.5" y1="876.5" x2="886.5" y2="933.5"/>
 <line x1="879.5" y1="855.3" x2="905.4" y2="870.3"/>
 <line x1="861" y1="865.3" x2="895.7" y2="884.3"/>
 <line x1="910.5" y1="923.4" x2="910.5" y2="968.1"/>
 <line x1="887.9" y1="929" x2="913.6" y2="945.8"/>
 <line x1="1273" y1="857.6" x2="1362.8" y2="910"/>
 <line x1="1036.6" y1="995.5" x2="1125.7" y2="1049"/>
 <line x1="1125.7" y1="1048" x2="1361.1" y2="908.9" marker-start="url(#ar)" marker-end="url(#ar)"/>
 <line x1="857.8" y1="945.8" x2="886.8" y2="929" stroke-dasharray="4,1.5,1,1.5"/>
 <ellipse cx="886.8" cy="929" rx="1.8" ry="3.5"/>
 <ellipse cx="893.5" cy="925.6" rx="1.8" ry="3.5"/>
 <ellipse cx="1084.3" cy="777.5" rx="1.8" ry="3"/>
 <ellipse cx="1084.8" cy="786.5" rx="1.5" ry="2.5"/>
 <ellipse cx="1071.8" cy="789.5" rx="1.6" ry="2.6"/>
 <ellipse cx="1230" cy="879" rx="1.6" ry="3"/>
 <ellipse cx="1245" cy="872" rx="1.6" ry="3"/>
 <ellipse cx="1024.1" cy="1005" rx="1.6" ry="3"/>
 <ellipse cx="1028.3" cy="1001.5" rx="1.6" ry="3"/>
</g>
<g transform="translate(1087,797.2) rotate(31)">
 <rect x="0" y="-2.6" width="29" height="5.2" fill="url(#thr)" stroke="#000" stroke-width="0.6"/>
 <rect x="29" y="-2.6" width="20" height="5.2" fill="#fff" stroke="#000" stroke-width="0.6"/>
 <ellipse cx="45" cy="0" rx="1" ry="2.2" fill="none" stroke="#000" stroke-width="0.5"/>
</g>
<g transform="translate(857.8,945.8) rotate(151.8)">
 <rect x="0" y="-2.6" width="30" height="5.2" fill="url(#thr)" stroke="#000" stroke-width="0.6"/>
 <rect x="30" y="-2.6" width="32" height="5.2" fill="#fff" stroke="#000" stroke-width="0.6"/>
 <ellipse cx="56" cy="0" rx="1" ry="2.2" fill="none" stroke="#000" stroke-width="0.5"/>
</g>
<g font-size="11">
 <text transform="translate(1186,747) rotate(30)" text-anchor="middle" y="4">90</text>
 <text transform="translate(1117,783) rotate(30)" text-anchor="middle" y="4">6</text>
 <text transform="translate(1056,822) rotate(-90)" text-anchor="middle" y="4">5</text>
 <text transform="translate(894.6,855.3) rotate(-60)" text-anchor="middle" y="4">35</text>
 <text transform="translate(870,862) rotate(-60)" text-anchor="middle" y="4">7</text>
 <text transform="translate(904.6,961.4) rotate(-90)" text-anchor="middle" y="4">11</text>
</g>
</g>
<g font-size="11">
 <text transform="translate(916,787) rotate(-30)" text-anchor="middle" y="4" font-size="12">A</text>
 <text transform="translate(926,806) rotate(-30)" text-anchor="middle" y="4" font-size="12">B</text>
 <text transform="translate(834.1,917.2) rotate(-90)" text-anchor="middle" y="4">Max 10</text>
 <text transform="translate(1234,974) rotate(-30)" text-anchor="middle" y="4" textLength="68" lengthAdjust="spacingAndGlyphs">SKL = NL-10</text>
 <text transform="translate(1079,860) rotate(-30)" text-anchor="middle" y="4" style="fill:#333" textLength="100" lengthAdjust="spacingAndGlyphs">Ø8 钻头孔深  Min12</text>
 <text transform="translate(1102,877) rotate(-31)" text-anchor="middle" y="6" font-size="16" font-weight="bold" textLength="101" lengthAdjust="spacingAndGlyphs">Drill hole depth</text>
 <text transform="translate(875,1010) rotate(30)" text-anchor="middle" y="4" style="fill:#333" textLength="100" lengthAdjust="spacingAndGlyphs">Ø7 钻头孔深  Min12</text>
 <text transform="translate(844,1018) rotate(32)" text-anchor="middle" y="6" font-size="16" font-weight="bold" textLength="102" lengthAdjust="spacingAndGlyphs">Drill hole depth</text>
</g>

<!-- NL A B table -->
<g stroke="#000" fill="none" stroke-width="1.1">
 <rect x="1378" y="741" width="152" height="235" stroke-width="1.4"/>
 <line x1="1433.9" y1="741" x2="1433.9" y2="976"/>
 <line x1="1481.9" y1="741" x2="1481.9" y2="976"/>
 <line x1="1378" y1="765.1" x2="1530" y2="765.1"/>
 <line x1="1378" y1="788.5" x2="1530" y2="788.5"/>
 <line x1="1378" y1="812.1" x2="1530" y2="812.1"/>
 <line x1="1378" y1="835.5" x2="1530" y2="835.5"/>
 <line x1="1378" y1="858.9" x2="1530" y2="858.9"/>
 <line x1="1378" y1="882.5" x2="1530" y2="882.5"/>
 <line x1="1378" y1="905.9" x2="1530" y2="905.9"/>
 <line x1="1378" y1="929.5" x2="1530" y2="929.5"/>
 <line x1="1378" y1="952.6" x2="1530" y2="952.6"/>
</g>
<g text-anchor="middle" font-size="15">
 <text x="1406" y="761" font-size="20">NL</text><text x="1458" y="761" font-size="20">A</text><text x="1506" y="761" font-size="20">B</text>
 <text x="1406" y="782.5">250</text><text x="1458" y="782.5">220</text><text x="1506" y="782.5">188</text>
 <text x="1406" y="806">270</text><text x="1458" y="806">230</text><text x="1506" y="806">198</text>
 <text x="1406" y="829.5">300</text><text x="1458" y="829.5">245</text><text x="1506" y="829.5">213</text>
 <text x="1406" y="853">350</text><text x="1458" y="853">270</text><text x="1506" y="853">238</text>
 <text x="1406" y="876.5">400</text><text x="1458" y="876.5">305</text><text x="1506" y="876.5">273</text>
 <text x="1406" y="900">450</text><text x="1458" y="900">330</text><text x="1506" y="900">298</text>
 <text x="1406" y="923.5">500</text><text x="1458" y="923.5">355</text><text x="1506" y="923.5">323</text>
 <text x="1406" y="947">550</text><text x="1458" y="947">390</text><text x="1506" y="947">358</text>
 <text x="1406" y="970.5">600</text><text x="1458" y="970.5">415</text><text x="1506" y="970.5">383</text>
</g>

<!-- bottom right logo -->
<text x="1383" y="1070" font-size="20" font-style="italic" style="fill:#fff" stroke="#222" stroke-width="0.8" textLength="75" lengthAdjust="spacingAndGlyphs">YOUDO</text>
<circle cx="1466" cy="1055.5" r="4.3" fill="#111"/><text x="1466" y="1058" font-size="6.5" font-weight="bold" style="fill:#fff" text-anchor="middle">R</text>
<text x="1483" y="1070" font-size="18" style="fill:#333">优度</text>
</svg>
</body></html>
